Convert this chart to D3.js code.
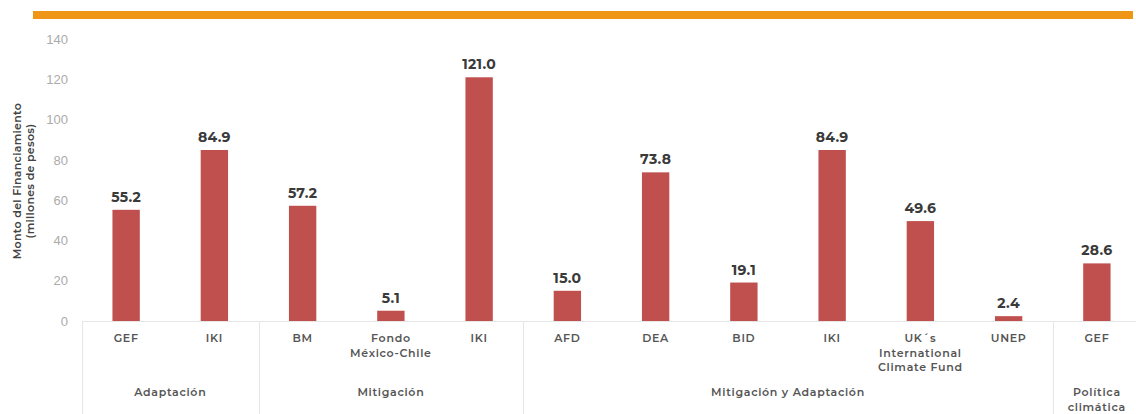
<!DOCTYPE html>
<html><head><meta charset="utf-8">
<script src="https://cdn.jsdelivr.net/npm/d3@7"></script>
<style>body{margin:0;background:#fff;}svg{display:block;font-family:"Montserrat","Noto Sans","Open Sans",sans-serif;}</style>
</head><body><svg id="c" width="1136" height="414"></svg>
<script>
const categories = ["GEF","IKI","BM","Fondo\nMéxico-Chile","IKI","AFD","DEA","BID","IKI","UK´s\nInternational\nClimate Fund","UNEP","GEF"];
const values = [55.2,84.9,57.2,5.1,121.0,15.0,73.8,19.1,84.9,49.6,2.4,28.6];
const groups = ["Adaptación","Mitigación","Mitigación y Adaptación","Política\nclimática"];
const groupSizes = [2,3,6,1];
const yTicks = [0,20,40,60,80,100,120,140];

const svg = d3.select("#c");
const x = d3.scaleBand().domain(d3.range(categories.length)).range([82,1141]).paddingInner(0.69).paddingOuter(0.345);
const y = d3.scaleLinear().domain([0,140]).range([321,39]);

// orange top rule
svg.append("rect").attr("x",33).attr("y",11).attr("width",1100).attr("height",8).attr("fill","#ef9616");

// y axis
const ya = svg.append("g").attr("transform","translate(68,0)")
  .call(d3.axisLeft(y).tickValues(yTicks).tickSize(0).tickPadding(0));
ya.select(".domain").remove();
ya.selectAll("text").attr("fill","#ababab").style("font-size","13px").style("font-weight","300");

// y title
const yt = svg.append("text").attr("transform","translate(0,181) rotate(-90)")
  .attr("text-anchor","middle").attr("fill","#444").style("font-size","11px").style("font-weight","600").style("letter-spacing","0.3px");
yt.append("tspan").attr("x",0).attr("y",21).text("Monto del Financiamiento");
yt.append("tspan").attr("x",0).attr("y",34).text("(millones de pesos)");

// baseline
svg.append("line").attr("x1",82).attr("x2",1136).attr("y1",321.5).attr("y2",321.5).attr("stroke","#e6e6e6");

// separators
let cum = 0;
const bounds = [0];
groupSizes.forEach(s=>{cum+=s;bounds.push(cum);});
const step = x.step();
const bx = i => x.range()[0] + i*step;
bounds.forEach(b=>{
  svg.append("line").attr("x1",Math.round(bx(b))+0.5).attr("x2",Math.round(bx(b))+0.5).attr("y1",321).attr("y2",414).attr("stroke","#e6e6e6");
});

// bars
svg.selectAll("rect.bar").data(values).join("rect").attr("class","bar")
  .attr("x",(d,i)=>x(i)).attr("width",x.bandwidth())
  .attr("y",d=>y(d)).attr("height",d=>y(0)-y(d)).attr("fill","#c0504d");

// value labels
svg.selectAll("text.val").data(values).join("text").attr("class","val")
  .attr("x",(d,i)=>x(i)+x.bandwidth()/2).attr("y",d=>y(d)-8)
  .attr("text-anchor","middle").attr("fill","#3a3a3a").style("font-size","14px").style("font-weight","700").style("letter-spacing","0.3px")
  .text(d=>d.toFixed(1));

// category labels
categories.forEach((c,i)=>{
  const cx = x(i)+x.bandwidth()/2;
  const t = svg.append("text").attr("text-anchor","middle")
    .attr("fill","#555").style("font-size","11px").style("font-weight","600").style("letter-spacing","0.7px");
  c.split("\n").forEach((l,k)=>t.append("tspan").attr("x",cx).attr("y",342+k*14.5).text(l));
});

// group labels
groups.forEach((g,gi)=>{
  const cx = (bx(bounds[gi])+bx(bounds[gi+1]))/2;
  const lines = g.split("\n");
  const y0 = 395.5;
  const t = svg.append("text").attr("text-anchor","middle").attr("fill","#555").style("font-size","11px").style("font-weight","600").style("letter-spacing","0.7px");
  lines.forEach((l,k)=>t.append("tspan").attr("x",cx).attr("y",y0+k*15).text(l));
});
</script></body></html>
